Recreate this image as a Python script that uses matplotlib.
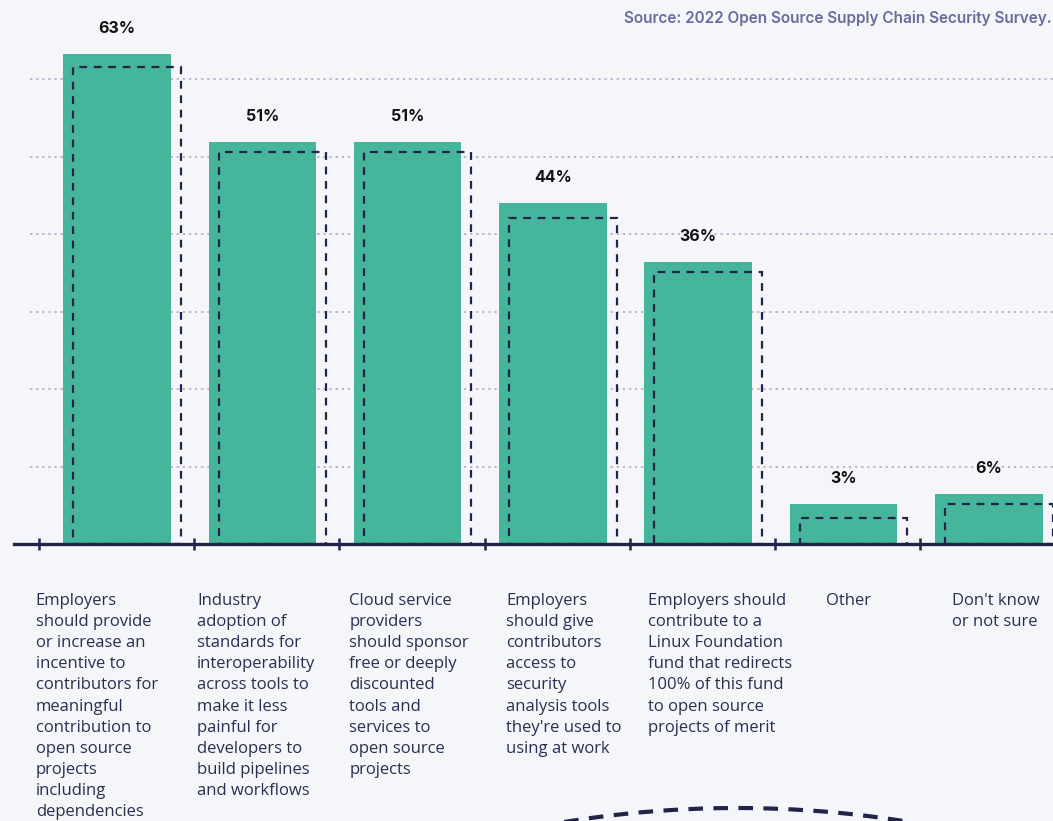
import matplotlib
matplotlib.use("Agg")
import matplotlib.pyplot as plt
import numpy as np

# answers, displayed labels and bar heights
answers = [
    "Employers\nshould provide\nor increase an\nincentive to\ncontributors for\nmeaningful\ncontribution to\nopen source\nprojects\nincluding\ndependencies",
    "Industry\nadoption of\nstandards for\ninteroperability\nacross tools to\nmake it less\npainful for\ndevelopers to\nbuild pipelines\nand workflows",
    "Cloud service\nproviders\nshould sponsor\nfree or deeply\ndiscounted\ntools and\nservices to\nopen source\nprojects",
    "Employers\nshould give\ncontributors\naccess to\nsecurity\nanalysis tools\nthey're used to\nusing at work",
    "Employers should\ncontribute to a\nLinux Foundation\nfund that redirects\n100% of this fund\nto open source\nprojects of merit",
    "Other",
    "Don't know\nor not sure",
]
pct_labels = ["63%", "51%", "51%", "44%", "36%", "3%", "6%"]
bar_vals = [63.2, 51.9, 51.9, 44.0, 36.4, 5.2, 6.5]
outline_vals = [61.5, 50.6, 50.6, 42.1, 35.1, 3.4, 5.2]

BG = "#f5f6fa"
GREEN = "#45b69b"
NAVY = "#22224a"

plt.rcParams['font.family'] = ['Open Sans', 'DejaVu Sans']
BOLD_FONT = ['Inter', 'DejaVu Sans']

fig = plt.figure(figsize=(10.53, 8.21), dpi=100, facecolor=BG)
ax = fig.add_axes([14/1053, 277/821, 1039/1053, 544/821])
ax.set_facecolor(BG)

x = np.arange(len(bar_vals))
w = 0.74
ax.set_xlim(-0.709, 6.442)
ax.set_ylim(0, 70.2)

for g in range(10, 70, 10):
    ax.plot([-0.6, 6.442], [g, g], color="#aaa4c8", lw=1.1, ls=(0, (1.5, 2.5)), zorder=1)

ax.bar(x, bar_vals, width=w, color=GREEN, zorder=2)
ax.bar(x + 0.069, outline_vals, width=w, fill=False, edgecolor=NAVY,
       lw=1.6, ls=(0, (3.5, 3)), zorder=3)

for xi, v, lab in zip(x, bar_vals, pct_labels):
    ax.text(xi, v + 3.3, lab, ha="center", va="center", fontsize=11.5,
            fontweight="bold", color="#111111", family=BOLD_FONT)

for s in ["top", "right", "left"]:
    ax.spines[s].set_visible(False)
ax.spines["bottom"].set_color(NAVY)
ax.spines["bottom"].set_linewidth(2.4)
ax.set_yticks([])
ticks = x - 0.47
ticks[0] = -0.54
ax.set_xticks(ticks)
ax.set_xticklabels([])
ax.tick_params(axis="x", direction="inout", length=9, width=1.8, color=NAVY)

# category text under the axis, left aligned
label_dx = [-0.56, -0.45, -0.40, -0.32, -0.345, -0.12, -0.255]
for xi, dx, txt in zip(x, label_dx, answers):
    ax.text(xi + dx, -6.3, txt, ha="left", va="top", fontsize=12,
            color="#2b2d50", linespacing=1.43, clip_on=False)

fig.text(0.999, 0.978, "Source: 2022 Open Source Supply Chain Security Survey.",
         ha="right", va="center", fontsize=11, fontweight="semibold",
         color="#6a6a9c", family=BOLD_FONT)

# decorative dashed arc at the bottom
ax_arc = fig.add_axes([0, 0, 1, 1], facecolor="none")
ax_arc.set_xlim(0, 1053)
ax_arc.set_ylim(821, 0)
ax_arc.axis("off")
px = np.linspace(560, 940, 200)
py = 808 + 12 * ((px - 737) / 160) ** 2
ax_arc.plot(px, py, color=NAVY, lw=3, ls=(0, (3.5, 2.5)))

fig.savefig("out.png", dpi=100, facecolor=BG)
